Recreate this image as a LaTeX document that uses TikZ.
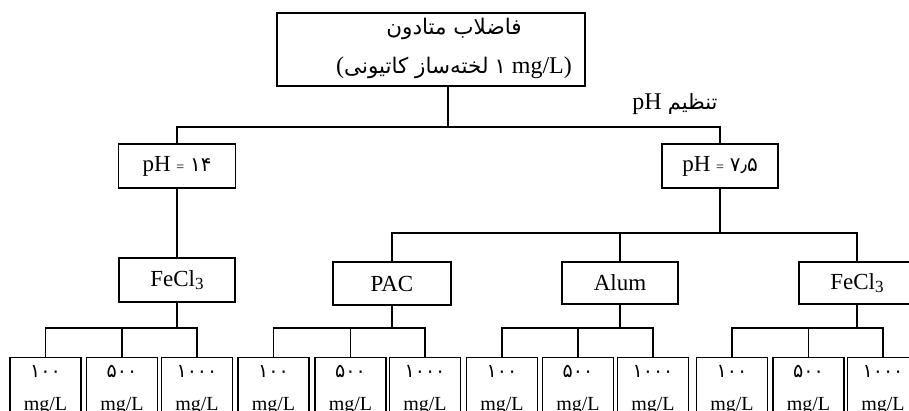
\documentclass[tikz,border=0pt]{standalone}
\usepackage{fontspec}
\setmainfont{Liberation Serif}
\newfontfamily\fa[Script=Arabic]{DejaVu Sans}
\TeXXeTstate=1
\begin{document}
\begin{tikzpicture}[x=1pt,y=-1pt,line width=1.3pt,
  box/.style={draw, inner sep=0pt, font=\fontsize{23}{26}\selectfont},
  leaf/.style={draw, anchor=north, minimum width=71pt, minimum height=64pt, inner sep=0pt, align=center, font=\fontsize{20}{33}\selectfont},
  txt/.style={inner sep=0pt},
  wire/.style={line width=1.3pt}]
\useasboundingbox (0,0) rectangle (909,410);
\clip (0,0) rectangle (909,410);
% top box
\node[box, minimum width=308pt, minimum height=73pt] (top) at (431,49.5) {};
\node[txt, font=\fa\fontsize{21.5}{24}\selectfont] (t1) at (454,29) {\beginR فاضلاب متادون\endR};
\node[txt, font=\fontsize{24}{27}\selectfont] (t2) at (454,68) {({\fa\fontsize{21.5}{24}\selectfont\beginR لخته‌ساز کاتیونی\endR} {\fa\fontsize{21}{24}\selectfont ۱} mg/L)};
\node[txt, font=\fontsize{24}{27}\selectfont] (adj) at (675,104) {pH {\fa\fontsize{21}{24}\selectfont\beginR تنظیم\endR}};
% pH boxes
\node[box, minimum width=117pt, minimum height=44pt] (ph14) at (177,166) {pH {\fontsize{14}{14}\selectfont =} {\fa\fontsize{20}{20}\selectfont ۱۴}};
\node[box, minimum width=116pt, minimum height=44pt] (ph75) at (720,166) {pH {\fontsize{14}{14}\selectfont =} {\fa\fontsize{20}{20}\selectfont ۷٫۵}};
% coagulant boxes
\node[box, minimum width=116pt, minimum height=44pt] (ferL) at (177,280) {FeCl\raisebox{-0.3ex}{\fontsize{17}{17}\selectfont 3}};
\node[box, minimum width=118pt, minimum height=43pt] (pac) at (392,283.5) {PAC};
\node[box, minimum width=116pt, minimum height=42pt] (alum) at (620,283) {Alum};
\node[box, minimum width=116pt, minimum height=42pt] (ferR) at (857,283) {FeCl\raisebox{-0.3ex}{\fontsize{17}{17}\selectfont 3}};
% leaves
\foreach \g/\xa/\xb/\xc in {1/45.5/122/197, 2/273.5/350.5/425, 3/502/578/653, 4/732/808.5/883}{
  \node[leaf] (l\g a) at (\xa,357) {{\fa\fontsize{19}{20}\selectfont ۱۰۰}\\mg/L};
  \node[leaf] (l\g b) at (\xb,357) {{\fa\fontsize{19}{20}\selectfont ۵۰۰}\\mg/L};
  \node[leaf] (l\g c) at (\xc,357) {{\fa\fontsize{19}{20}\selectfont ۱۰۰۰}\\mg/L};
}
% connectors
\coordinate (b1) at (0,127);
\coordinate (b2) at (0,233);
\coordinate (b3) at (0,328);
\coordinate (tj) at ([xshift=17pt]top.south);
\draw[wire] (tj) -- (tj |- b1);
\draw[wire] (ph14.north) -- (ph14.north |- b1) -- (ph75.north |- b1) -- (ph75.north);
\draw[wire] (ph14.south) -- (ferL.north);
\draw[wire] (ph75.south) -- (ph75.south |- b2);
\draw[wire] (pac.north) -- (pac.north |- b2) -- (ferR.north |- b2) -- (ferR.north);
\draw[wire] (alum.north) -- (alum.north |- b2);
\foreach \p/\g in {ferL/1, pac/2, alum/3, ferR/4}{
  \draw[wire] (\p.south) -- (\p.south |- b3);
  \draw[wire] (l\g a.north) -- (l\g a.north |- b3) -- (l\g c.north |- b3) -- (l\g c.north);
  \draw[wire] (l\g b.north) -- (l\g b.north |- b3);
}
\end{tikzpicture}
\end{document}
